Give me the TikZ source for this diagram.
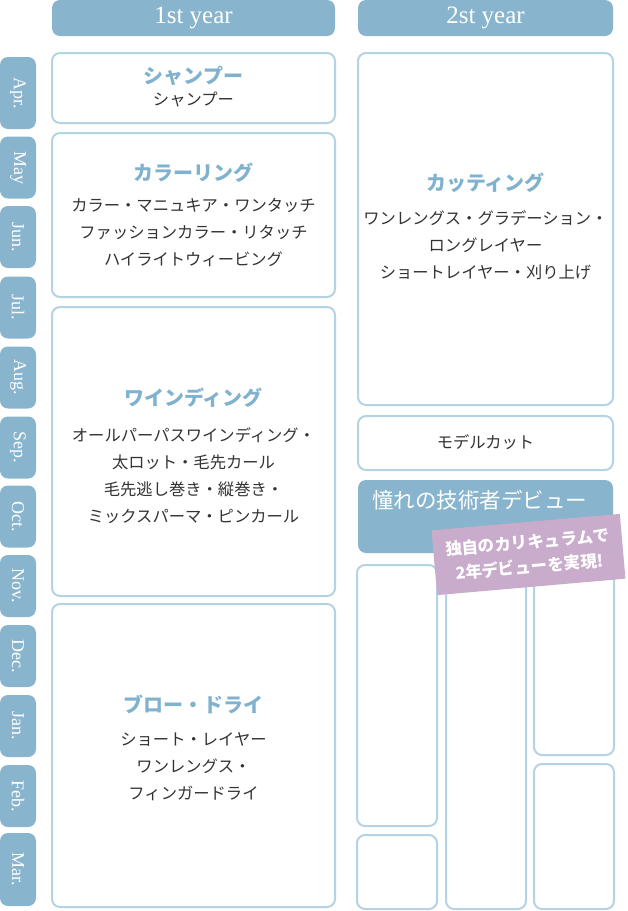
\documentclass[tikz,border=0pt]{standalone}
\usepackage{fontspec}
\setmainfont{Liberation Serif}
\newfontfamily\jp{Noto Sans CJK JP}
\definecolor{hdr}{HTML}{88B5CD}
\definecolor{boxc}{HTML}{B4D3E4}
\definecolor{ttl}{HTML}{80B2CE}
\definecolor{txt}{HTML}{333333}
\definecolor{ban}{HTML}{C9ABCC}
\tikzset{
  box/.style={draw=boxc, line width=2pt, rounded corners=8pt, inner sep=0pt, fill=white},
  hdrbox/.style={fill=hdr, rounded corners=8pt, inner sep=0pt, text=white, font=\fontsize{25}{27}\selectfont},
  tab/.style={fill=hdr, rounded corners=8pt, inner sep=0pt, text=white, font=\fontsize{18}{20}\selectfont, rotate=-90, minimum height=36pt},
  ttltext/.style={text=ttl, font=\jp\bfseries\fontsize{20}{24}\selectfont, inner sep=0pt},
  bodytext/.style={text=txt, font=\jp\fontsize{16.3}{27}\selectfont, align=center, inner sep=0pt},
  debuttext/.style={text=white, font=\jp\fontsize{21.5}{24}\selectfont, inner sep=0pt},
  bannerbox/.style={fill=ban, inner sep=0pt, text=white, align=center, font=\jp\bfseries\fontsize{16.5}{24.5}\selectfont}
}
\begin{document}
\begin{tikzpicture}[x=1pt,y=-1pt]
\useasboundingbox (0,0) rectangle (628,911);
% headers
\node[hdrbox, minimum width=283pt, minimum height=36pt] (h1) at (193.5,18) {1st year};
\node[hdrbox, minimum width=255pt, minimum height=36pt] (h2) at (485.5,18) {2st year};
% months
\foreach \m/\c/\h [count=\i] in {Apr./93/72, May/167.5/62, Jun./237/62, Jul./307.5/62, Aug./377.5/62, Sep./447.5/62, Oct./516.5/62, Nov./586/62, Dec./656/62, Jan./726/62, Feb./796/62, Mar./869.5/73}
  \node[tab, minimum width=\h pt] (m\i) at (18,\c) {\m};
% first year boxes
\node[box, minimum width=283pt, minimum height=70pt] (shampoo) at (193.5,88) {};
\node[ttltext] (shampooT) at (193.5,76) {シャンプー};
\node[bodytext] (shampooB) at (193.5,99.5) {シャンプー};
\node[box, minimum width=283pt, minimum height=164pt] (color) at (193.5,215) {};
\node[ttltext] (colorT) at (193.5,173) {カラーリング};
\node[bodytext] (colorB) at (193.5,232) {カラー・マニュキア・ワンタッチ\\ファッションカラー・リタッチ\\ハイライトウィービング};
\node[box, minimum width=283pt, minimum height=289pt] (wind) at (193.5,451.5) {};
\node[ttltext] (windT) at (193.5,398) {ワインディング};
\node[bodytext] (windB) at (193.5,476) {オールパーパスワインディング・\\太ロット・毛先カール\\毛先逃し巻き・縦巻き・\\ミックスパーマ・ピンカール};
\node[box, minimum width=283pt, minimum height=303pt] (blow) at (193.5,755.5) {};
\node[ttltext] (blowT) at (193.5,704) {ブロー・ドライ};
\node[bodytext] (blowB) at (193.5,766.5) {ショート・レイヤー\\ワンレングス・\\フィンガードライ};
% second year boxes
\node[box, minimum width=255pt, minimum height=352pt] (cut) at (485.5,229) {};
\node[ttltext] (cutT) at (485.5,183) {カッティング};
\node[bodytext] (cutB) at (485.5,245.5) {ワンレングス・グラデーション・\\ロングレイヤー\\ショートレイヤー・刈り上げ};
\node[box, minimum width=255pt, minimum height=54pt] (model) at (485.5,443) {};
\node[bodytext] (modelB) at (485.5,442) {モデルカット};
\node[fill=hdr, rounded corners=8pt, inner sep=0pt, minimum width=255pt, minimum height=73pt] (debut) at (485.5,516.5) {};
\node[debuttext, anchor=west] (debutT) at (372,500) {憧れの技術者デビュー};
\node[box, minimum width=80pt, minimum height=261pt] (c1) at (397,695.5) {};
\node[box, minimum width=80pt, minimum height=74pt] (c1b) at (397,872) {};
\node[box, minimum width=80pt, minimum height=344pt] (c2) at (486,737) {};
\node[box, minimum width=80pt, minimum height=190pt] (c3) at (574,660) {};
\node[box, minimum width=80pt, minimum height=145pt] (c3b) at (574,836.5) {};
% banner
\node[bannerbox, rotate=5, minimum width=189pt, minimum height=65pt] (banner) at (528.5,554.5) {独自のカリキュラムで\\2年デビューを実現!};
\end{tikzpicture}
\end{document}
